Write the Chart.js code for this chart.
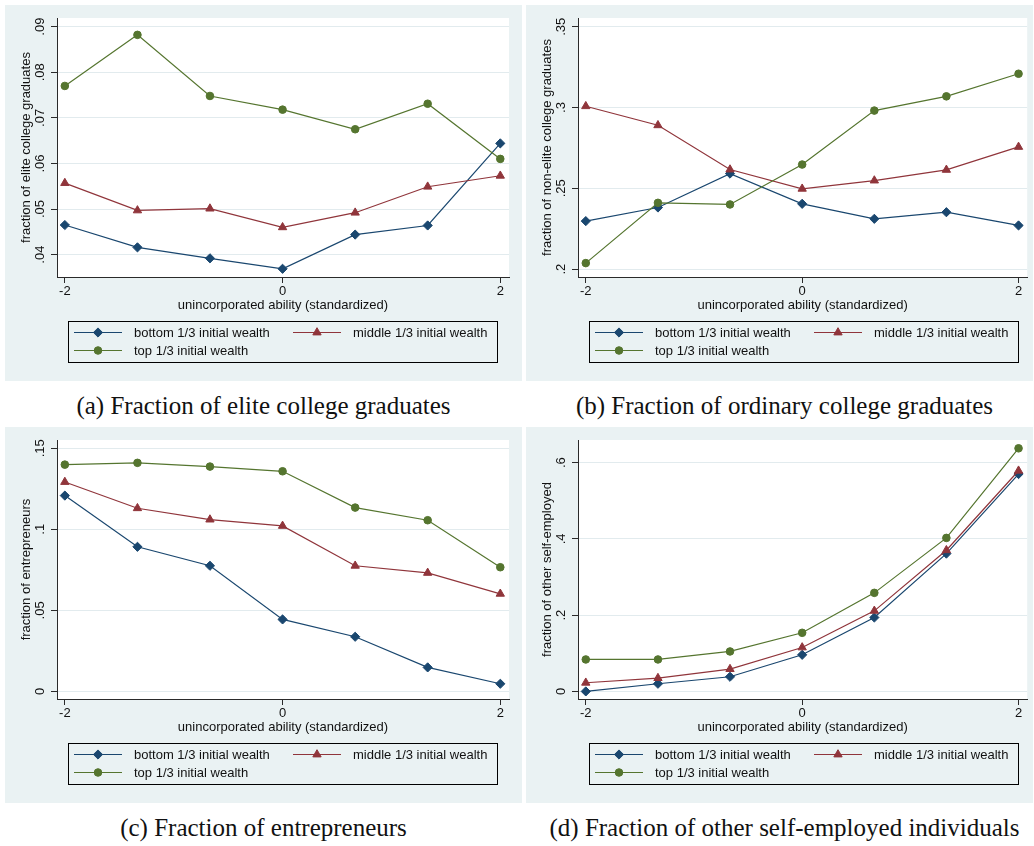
<!DOCTYPE html>
<html>
<head>
<meta charset="utf-8">
<script src="https://cdn.jsdelivr.net/npm/chart.js@4/dist/chart.umd.min.js"></script>
<style>
  body { margin: 0; background: #fff; width: 1034px; height: 846px; position: relative; overflow: hidden; }
  .panel { position: absolute; background: #eaf2f3; }
  .panel canvas { display: block; }
  .cap { position: absolute; height: 30px; line-height: 30px; font: 25px "Liberation Serif", "Times New Roman", serif; color: #111; text-align: center; white-space: nowrap; }
</style>
</head>
<body>
<div class="panel" style="left:5px;top:5px;width:517px;height:376px"><canvas id="chA" width="517" height="376"></canvas></div>
<div class="panel" style="left:526px;top:5px;width:507px;height:376px"><canvas id="chB" width="507" height="376"></canvas></div>
<div class="panel" style="left:5px;top:427px;width:517px;height:376px"><canvas id="chC" width="517" height="376"></canvas></div>
<div class="panel" style="left:526px;top:427px;width:507px;height:376px"><canvas id="chD" width="507" height="376"></canvas></div>
<div class="cap" style="left:5px;top:392px;width:517px">(a) Fraction of elite college graduates</div>
<div class="cap" style="left:526px;top:392px;width:517px">(b) Fraction of ordinary college graduates</div>
<div class="cap" style="left:5px;top:814px;width:517px">(c) Fraction of entrepreneurs</div>
<div class="cap" style="left:526px;top:814px;width:517px">(d) Fraction of other self-employed individuals</div>
<script>
// ability grid (standardized)
const abilityX = [-2, -1.333, -0.667, 0, 0.667, 1.333, 2];
const xTicks = [-2, 0, 2];
const seriesNames = ["bottom 1/3 initial wealth", "middle 1/3 initial wealth", "top 1/3 initial wealth"];

// (a) elite college graduates
const eliteBottom = [0.0465, 0.0416, 0.0392, 0.0369, 0.0444, 0.0464, 0.0644];
const eliteMiddle = [0.0557, 0.0497, 0.0501, 0.0460, 0.0492, 0.0549, 0.0573];
const eliteTop    = [0.0770, 0.0882, 0.0748, 0.0718, 0.0675, 0.0731, 0.0610];
const eliteTicks  = [0.04, 0.05, 0.06, 0.07, 0.08, 0.09];

// (b) non-elite college graduates
const ordBottom = [0.2297, 0.2381, 0.2591, 0.2404, 0.2311, 0.2352, 0.2270];
const ordMiddle = [0.3008, 0.2890, 0.2616, 0.2497, 0.2548, 0.2614, 0.2756];
const ordTop    = [0.2037, 0.2410, 0.2400, 0.2647, 0.2981, 0.3069, 0.3209];
const ordTicks  = [0.2, 0.25, 0.3, 0.35];

// (c) entrepreneurs
const entBottom = [0.1208, 0.0892, 0.0775, 0.0444, 0.0337, 0.0148, 0.0047];
const entMiddle = [0.1292, 0.1130, 0.1060, 0.1021, 0.0775, 0.0731, 0.0602];
const entTop    = [0.1399, 0.1410, 0.1387, 0.1358, 0.1134, 0.1056, 0.0766];
const entTicks  = [0, 0.05, 0.1, 0.15];

// (d) other self-employed
const selfBottom = [0.0000, 0.0201, 0.0384, 0.0960, 0.1938, 0.3614, 0.5701];
const selfMiddle = [0.0227, 0.0349, 0.0585, 0.1153, 0.2113, 0.3702, 0.5788];
const selfTop    = [0.0838, 0.0838, 0.1048, 0.1537, 0.2585, 0.4026, 0.6376];
const selfTicks  = [0, 0.2, 0.4, 0.6];

const COLORS = ["#1a476f", "#90353b", "#55752f"];
const STYLES = ["rectRot", "triangle", "circle"];
const RADII = [4.6, 4.8, 3.8];
const FONT = { family: '"Liberation Sans", Arial, sans-serif', size: 13 };
const INK = "#111";
const AXIS = "#2a2a2a";

function fmt(v) {
  if (Math.abs(v) < 1e-9) return "0";
  return String(+v.toFixed(3)).replace(/^0\./, ".").replace(/^-0\./, "-.");
}

function marker(ctx, style, r, x, y, color) {
  ctx.fillStyle = color;
  ctx.strokeStyle = color;
  ctx.lineWidth = 1;
  if (Chart.helpers && Chart.helpers.drawPoint) {
    Chart.helpers.drawPoint(ctx, { pointStyle: style, radius: r, rotation: 0, borderWidth: 1 }, x, y);
    return;
  }
  ctx.beginPath();
  ctx.arc(x, y, r, 0, Math.PI * 2);
  ctx.fill();
}

// white plot region, rotated y labels and the boxed legend
const stataDecor = {
  id: "stataDecor",
  beforeDraw(chart) {
    const { ctx, chartArea: a } = chart;
    ctx.save();
    ctx.fillStyle = "#fff";
    ctx.fillRect(a.left, a.top, a.right - a.left, a.bottom - a.top);
    ctx.restore();
  },
  afterDraw(chart) {
    const ctx = chart.ctx;
    const ys = chart.scales.y;
    ctx.save();
    ctx.font = `${FONT.size}px ${FONT.family}`;
    ctx.fillStyle = INK;
    ctx.textAlign = "center";
    ctx.textBaseline = "middle";
    ys.ticks.forEach(t => {
      const py = ys.getPixelForValue(t.value);
      ctx.save();
      ctx.translate(35, py);
      ctx.rotate(-Math.PI / 2);
      ctx.fillText(fmt(t.value), 0, 0);
      ctx.restore();
    });

    // legend box
    ctx.strokeStyle = "#000";
    ctx.lineWidth = 1;
    ctx.strokeRect(63.5, 316.5, 429, 41);
    const colX = [69, 288];
    const rowY = [327.5, 345.5];
    chart.data.datasets.forEach((ds, i) => {
      const x0 = colX[i % 2];
      const y0 = rowY[Math.floor(i / 2)];
      ctx.strokeStyle = ds.borderColor;
      ctx.lineWidth = 1.2;
      ctx.beginPath();
      ctx.moveTo(x0, y0);
      ctx.lineTo(x0 + 48, y0);
      ctx.stroke();
      marker(ctx, ds.pointStyle, ds.pointRadius, x0 + 24, y0, ds.borderColor);
      ctx.fillStyle = INK;
      ctx.textAlign = "left";
      ctx.textBaseline = "middle";
      ctx.fillText(ds.label, x0 + 60, y0 + 0.5);
    });
    ctx.restore();
  }
};

function makePanel(id, series, yMin, yMax, yTicks, yTitle, padRight) {
  const el = document.getElementById(id);
  if (!el) return;
  return new Chart(el, {
    type: "line",
    data: {
      datasets: series.map((vals, i) => ({
        label: seriesNames[i],
        data: abilityX.map((x, k) => ({ x, y: vals[k] })),
        borderColor: COLORS[i],
        backgroundColor: COLORS[i],
        pointBackgroundColor: COLORS[i],
        pointBorderColor: COLORS[i],
        pointStyle: STYLES[i],
        pointRadius: RADII[i],
        pointBorderWidth: 1,
        borderWidth: 1.2,
        tension: 0,
        order: 3 - i,
      }))
    },
    options: {
      responsive: false,
      animation: false,
      devicePixelRatio: 1,
      layout: { padding: { top: 13, right: padRight, bottom: 64, left: 0 } },
      plugins: { legend: { display: false }, tooltip: { enabled: false } },
      scales: {
        x: {
          type: "linear",
          min: -2.072,
          max: 2.08,
          afterBuildTicks: s => { s.ticks = xTicks.map(v => ({ value: v })); },
          afterFit: s => { s.height = 40; },
          grid: { drawOnChartArea: false, drawTicks: true, tickLength: 6, tickColor: AXIS },
          border: { color: AXIS, width: 1 },
          ticks: { font: FONT, color: INK, padding: 1, maxRotation: 0, callback: v => String(v) },
          title: { display: true, text: "unincorporated ability (standardized)", font: FONT, color: INK, padding: { top: 0, bottom: 4 } }
        },
        y: {
          type: "linear",
          min: yMin,
          max: yMax,
          afterBuildTicks: s => { s.ticks = yTicks.map(v => ({ value: v })); },
          afterFit: s => { s.width = 52; },
          grid: { color: "#e2ebee", lineWidth: 1, drawTicks: true, tickLength: 6, tickColor: AXIS },
          border: { color: AXIS, width: 1 },
          ticks: { display: false },
          title: { display: true, text: yTitle, font: FONT, color: INK, padding: { top: 14, bottom: 0 } }
        }
      }
    },
    plugins: [stataDecor]
  });
}

makePanel("chA", [eliteBottom, eliteMiddle, eliteTop], 0.0351, 0.0919, eliteTicks, "fraction of elite college graduates", 13);
makePanel("chB", [ordBottom, ordMiddle, ordTop], 0.1951, 0.3554, ordTicks, "fraction of non-elite college graduates", 3);
makePanel("chC", [entBottom, entMiddle, entTop], -0.0047, 0.1551, entTicks, "fraction of entrepreneurs", 13);
makePanel("chD", [selfBottom, selfMiddle, selfTop], -0.0199, 0.6594, selfTicks, "fraction of other self-employed", 3);
</script>
</body>
</html>
